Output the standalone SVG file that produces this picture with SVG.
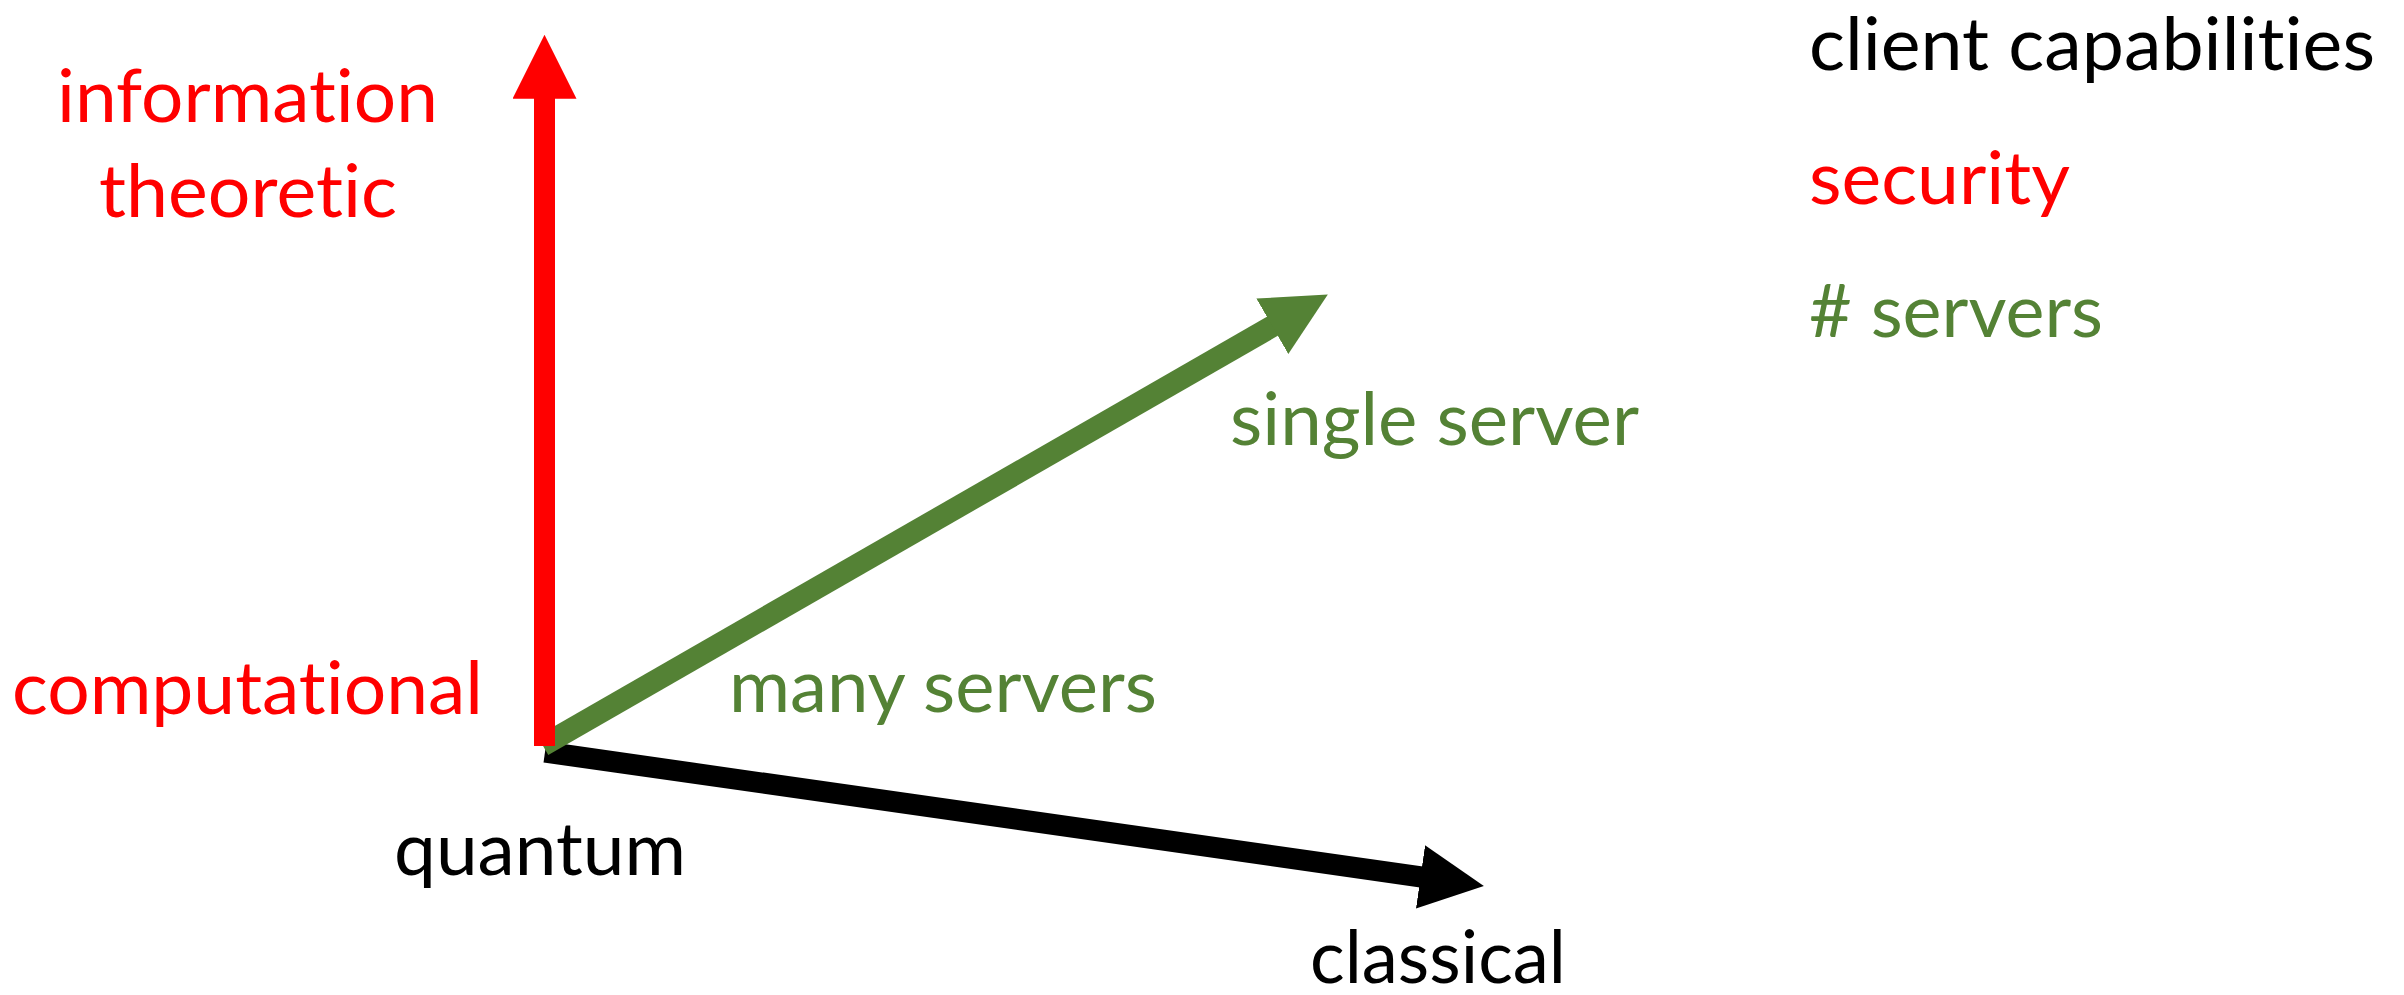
<svg xmlns="http://www.w3.org/2000/svg" width="2404" height="995" viewBox="0 0 2404 995">
  <style>
    .lbl { font-family: Lato, "Open Sans", "Liberation Sans", sans-serif; font-size: 74px; font-variant-ligatures: none; font-feature-settings: "liga" 0, "clig" 0; }
    .red { fill: #FF0000; }
    .green { fill: #548235; }
    .black { fill: #000000; }
    .axis { fill: none; stroke-linecap: butt; }
  </style>
  <defs>
    <marker id="head-black" markerUnits="userSpaceOnUse" markerWidth="64" markerHeight="64" viewBox="0 0 64 64" refX="1" refY="32" orient="auto">
      <path d="M0,0 L64,32 L0,64 Z" fill="#000000"/>
    </marker>
    <marker id="head-green" markerUnits="userSpaceOnUse" markerWidth="64" markerHeight="64" viewBox="0 0 64 64" refX="1" refY="32" orient="auto">
      <path d="M0,0 L64,32 L0,64 Z" fill="#548235"/>
    </marker>
    <marker id="head-red" markerUnits="userSpaceOnUse" markerWidth="64" markerHeight="64" viewBox="0 0 64 64" refX="1" refY="32" orient="auto">
      <path d="M0,0 L64,32 L0,64 Z" fill="#FF0000"/>
    </marker>
  </defs>

  <!-- axes: client capabilities (black), # servers (green), security (red) -->
  <g id="connectors">
    <line class="axis" x1="545" y1="752" x2="1421.5" y2="877" stroke="#000000" stroke-width="21" marker-end="url(#head-black)"/>
    <line class="axis" x1="542.8" y1="745.5" x2="1273.2" y2="325.8" stroke="#548235" stroke-width="22" marker-end="url(#head-green)"/>
    <line class="axis" x1="544.5" y1="746" x2="544.5" y2="97.7" stroke="#FF0000" stroke-width="21" marker-end="url(#head-red)"/>
  </g>

  <!-- security axis labels -->
  <g id="information-theoretic">
    <text class="lbl red" x="57" y="122" textLength="381" lengthAdjust="spacingAndGlyphs">information</text>
    <text class="lbl red" x="99" y="217" textLength="298" lengthAdjust="spacingAndGlyphs">theoretic</text>
  </g>
  <g id="computational">
    <text class="lbl red" x="12" y="714" textLength="471" lengthAdjust="spacingAndGlyphs">computational</text>
  </g>

  <!-- server axis labels -->
  <g id="many-servers">
    <text class="lbl green" x="729" y="712" textLength="428" lengthAdjust="spacingAndGlyphs">many servers</text>
  </g>
  <g id="single-server">
    <text class="lbl green" x="1230" y="445" textLength="409" lengthAdjust="spacingAndGlyphs">single server</text>
  </g>

  <!-- client axis labels -->
  <g id="quantum">
    <text class="lbl black" x="394" y="875" textLength="292" lengthAdjust="spacingAndGlyphs">quantum</text>
  </g>
  <g id="classical">
    <text class="lbl black" x="1310" y="983" textLength="256" lengthAdjust="spacingAndGlyphs">classical</text>
  </g>

  <!-- legend -->
  <g id="legend">
    <text class="lbl black" x="1809" y="70" textLength="566" lengthAdjust="spacingAndGlyphs">client capabilities</text>
    <text class="lbl red" x="1809" y="204" textLength="261" lengthAdjust="spacingAndGlyphs">security</text>
    <text class="lbl green" x="1809" y="337" textLength="294" lengthAdjust="spacingAndGlyphs"># servers</text>
  </g>
</svg>
